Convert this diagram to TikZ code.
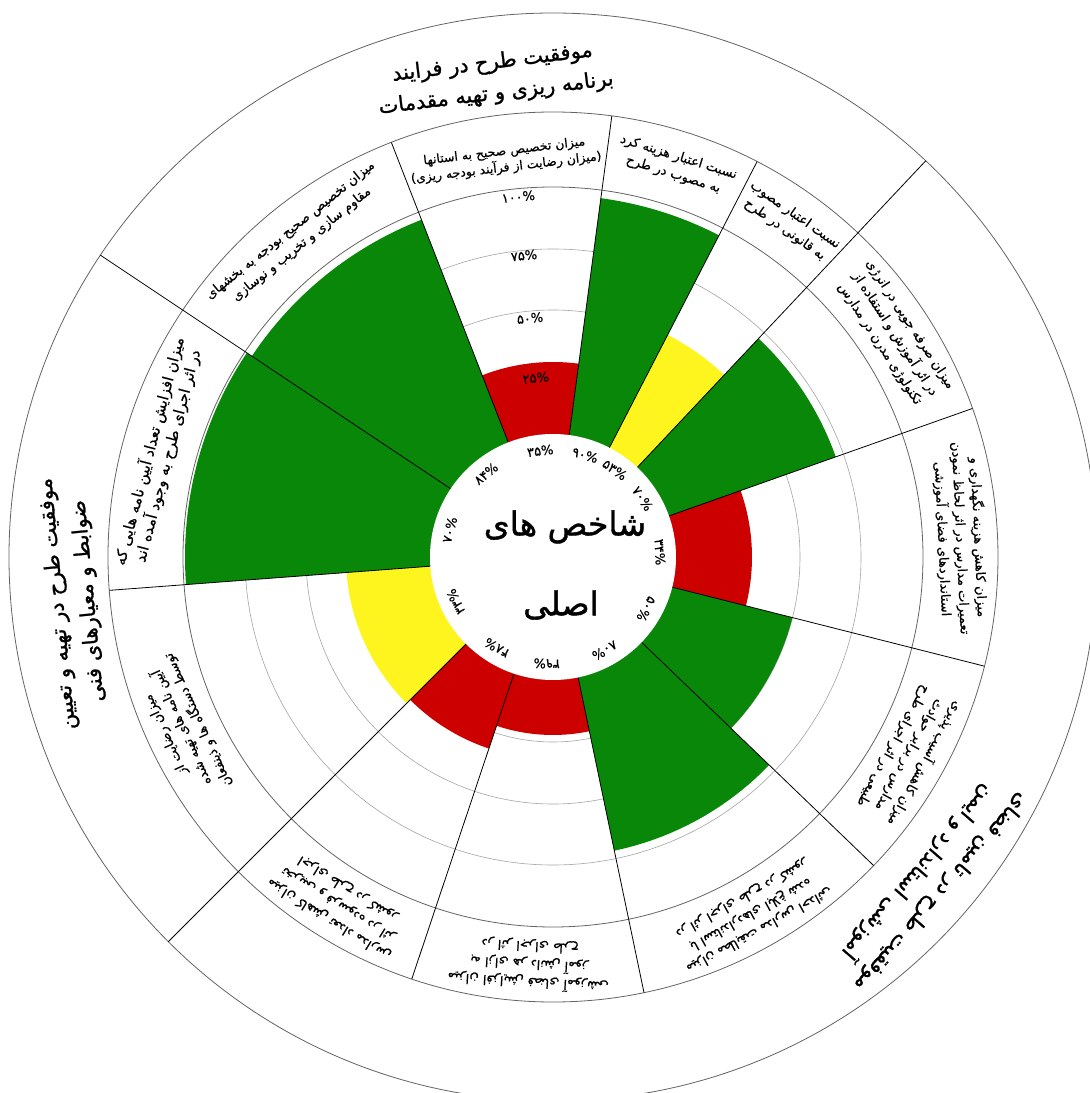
\documentclass[tikz,border=0pt]{standalone}
\usepackage{fontspec}
\newfontfamily\fa[Script=Arabic]{DejaVu Sans}
\newfontfamily\fabold[Script=Arabic, FakeBold=1.2]{DejaVu Sans}
\newfontfamily\famed[Script=Arabic, FakeBold=0.5]{DejaVu Sans}
\TeXXeTstate=1
\definecolor{cgreen}{RGB}{8,135,8}
\definecolor{cred}{RGB}{205,0,0}
\definecolor{cyellow}{RGB}{255,245,30}
\definecolor{gridc}{RGB}{165,165,165}
\definecolor{ringc}{RGB}{100,100,100}
\newcommand{\RL}[1]{\beginR #1\endR}
\newcommand{\seclab}[5][]{\node[lbl, rotate=#3-90, #1] (#2) at (#3:#4) {#5};}
\newcommand{\pct}[3]{\node[pctl, rotate=#2-90] (#1) at (#2:107) {#3};}
\begin{document}
\begin{tikzpicture}[x=1pt,y=1pt,
  lbl/.style={font=\famed\fontsize{13}{18}\selectfont, align=center, inner sep=0pt},
  ttl/.style={font=\fabold\fontsize{21}{31}\selectfont, align=center, inner sep=0pt},
  pctl/.style={font=\famed\fontsize{13}{15}\selectfont, inner sep=0pt},
  divider/.style={draw=black, line width=0.8pt},
  gridline/.style={draw=gridc, line width=0.6pt},
  ring/.style={draw=ringc, line width=0.8pt}]
\useasboundingbox (-553,-536) rectangle (537,557);
\fill[white] (-553,-536) rectangle (537,557);
% grid circles (under the bars)
\foreach \r in {185,247,308} \draw[gridline] (0,0) circle[radius=\r];
% sectors
\foreach \a/\b/\r/\c in {111.3/146.3/362/cgreen, 82.4/111.3/195/cred, 62.7/82.4/362/cgreen,
  46.75/62.7/250/cyellow, 19.5/46.75/300/cgreen, -14.2/19.5/199/cred, -43.9/-14.2/247/cgreen,
  -78.2/-43.9/300/cgreen, -108.5/-78.2/178/cred, -135/-108.5/202/cred,
  -175.7/-135/207/cyellow, -213.7/-175.7/368/cgreen}
  \fill[\c] (0,0) -- (\a:\r) arc[start angle=\a, end angle=\b, radius=\r] -- cycle;
\draw[ring] (0,0) circle[radius=370];
\draw[ring] (0,0) circle[radius=445];
\draw[ring] (0,0) circle[radius=544];
% radial dividers
\foreach \a in {111.3,82.4,62.7,19.5,-14.2,-43.9,-78.2,-108.5,-175.7}
  \draw[divider] (\a:123) -- (\a:445);
\foreach \a in {146.3,46.75,-135}
  \draw[divider] (\a:123) -- (\a:544);
% inner circle
\fill[white] (0,0) circle[radius=123];
% centre text
\node[font=\fabold\fontsize{33}{40}\selectfont, inner sep=0pt] (c1) at (12,30) {\RL{شاخص های}};
\node[font=\fabold\fontsize{33}{40}\selectfont, inner sep=0pt] (c2) at (8,-48) {\RL{اصلی}};
% percentages
\pct{p1}{128.8}{۸۴\%}
\pct{p2}{96.85}{۳۵\%}
\pct{p3}{72.55}{۹۰\%}
\pct{p4}{54.7}{۵۳\%}
\pct{p5}{33.1}{۷۰\%}
\pct{p6}{2.65}{۳۴\%}
\pct{p7}{-29.05}{۵۰\%}
\pct{p8}{-61.05}{۸۰\%}
\pct{p9}{-93.35}{۳۹\%}
\pct{p10}{-121.75}{۴۸\%}
\pct{p11}{-155.35}{۳۳\%}
\pct{p12}{-194.7}{۷۰\%}
% scale labels
\foreach \r/\t [count=\i] in {362/۱۰۰, 303/۷۵, 240/۵۰, 180/۲۵}
  \node[pctl, rotate=5.5] (s\i) at (95.5:\r) {\t\%};
% sector labels
\seclab{l1}{128.8}{410}{\RL{میزان تخصیص صحیح بودجه به بخشهای}\\\RL{مقاوم سازی و تخریب و نوسازی}}
\seclab[font=\famed\fontsize{12.5}{16.5}\selectfont]{l2}{96.85}{400}{\RL{میزان تخصیص صحیح به استانها}\\\RL{(میزان رضایت از فرآیند بودجه ریزی)}}
\seclab{l3}{72.55}{410}{\RL{نسبت اعتبار هزینه کرد}\\\RL{به مصوب در طرح}}
\seclab{l4}{54.7}{410}{\RL{نسبت اعتبار مصوب}\\\RL{به قانونی در طرح}}
\seclab{l5}{33.1}{408}{\RL{میزان صرفه جویی در انرژی}\\\RL{در اثر آموزش و استفاده از}\\\RL{تکنولوژی مدرن در مدارس}}
\seclab{l6}{2.65}{408}{\RL{میزان کاهش هزینه نگهداری و}\\\RL{تعمیرات مدارس در اثر لحاظ نمودن}\\\RL{استانداردهای فضای آموزشی}}
\seclab{l7}{-29.05}{408}{\RL{میزان کاهش آسیب پذیری}\\\RL{مدارس در برابر حوادث}\\\RL{طبیعی در اثر اجرای طرح}}
\seclab{l8}{-61.05}{408}{\RL{میزان مطابقت مدارس احداثی}\\\RL{با استانداردهای ابلاغ شده}\\\RL{در اثر اجرای طرح در کشور}}
\seclab{l9}{-93.35}{408}{\RL{میزان افزایش فضای آموزشی}\\\RL{به ازای هر دانش آموز}\\\RL{در اثر اجرای طرح}}
\seclab{l10}{-121.75}{408}{\RL{میزان کاهش تعداد مدارس}\\\RL{تخریبی و فرسوده در اثر}\\\RL{اجرای طرح در کشور}}
\seclab{l11}{-155.35}{408}{\RL{میزان رضایت از}\\\RL{آیین نامه های تهیه شده}\\\RL{توسط دستگاه ها و ذینفعان}}
\seclab[font=\famed\fontsize{15}{19}\selectfont]{l12}{-194.7}{408}{\RL{میزان افزایش تعداد آیین نامه هایی که}\\\RL{در اثر اجرای طرح به وجود آمده اند}}
% titles
\node[ttl, rotate=7] (t1) at (97:482) {\RL{موفقیت طرح در فرایند}\\\RL{برنامه ریزی و تهیه مقدمات}};
\node[ttl, rotate=95.4] (t2) at (185.4:482) {\RL{موفقیت طرح در تهیه و تعیین}\\\RL{ضوابط و معیارهای فنی}};
\node[ttl, rotate=229.2] (t3) at (-40.8:497) {\RL{موفقیت طرح در تامین فضای}\\\RL{آموزشی استاندارد و ایمن}};
\end{tikzpicture}
\end{document}
